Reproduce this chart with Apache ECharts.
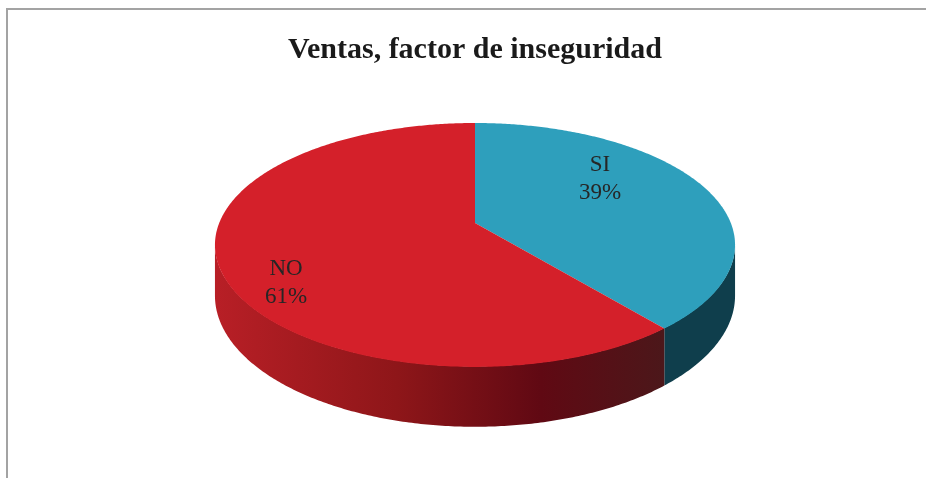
<!DOCTYPE html>
<html>
<head>
<meta charset="utf-8">
<script src="https://cdn.jsdelivr.net/npm/echarts/dist/echarts.min.js"></script>
<style>
html,body{margin:0;padding:0;background:#ffffff;}
#chart{width:926px;height:478px;}
</style>
</head>
<body>
<div id="chart"></div>
<script>
// ---- data ----
const categories = ['SI', 'NO'];
const values = [39, 61];
const titleText = 'Ventas, factor de inseguridad';

// ---- layout / style (not data) ----
const CX = 475, CY = 223;      // projected centre of the top face
const A = 255.8, B = 118;      // projected radii
const K = 0.18;                // perspective factor
const D0 = 49.1;               // thickness of the pie
const labelPos = [[600, 179], [286, 283]];
const topColors = ['#2e9fbc', '#d4202a'];
const FONT = '"Liberation Serif", "Times New Roman", serif';

const total = values.reduce((s, v) => s + v, 0);
function sliceAngles(i) {
  let before = 0;
  for (let j = 0; j < i; j++) before += values[j];
  const s = before / total * Math.PI * 2;
  const e = (before + values[i]) / total * Math.PI * 2;
  return [s, e];
}
function proj(theta, r, drop) {
  const u = r * Math.sin(theta), v = r * Math.cos(theta);
  const sc = 1 / (1 + K * v);
  return [CX + A * u * sc, CY - B * v * sc + drop * sc];
}
const TL = Math.acos(-K), TR = Math.PI * 2 - Math.acos(-K);

const wallFills = [
  '#0f3e4c',
  new echarts.graphic.LinearGradient(215, 0, 735, 0, [
    {offset: 0, color: '#b81f26'},
    {offset: 0.35, color: '#8e1619'},
    {offset: 0.627, color: '#600913'},
    {offset: 0.86, color: '#4c171a'},
    {offset: 1, color: '#4c171a'}
  ], true)
];

function renderWall(params, api) {
  const i = params.dataIndex;
  const [s, e] = sliceAngles(i);
  const a = Math.max(s, TL), b = Math.min(e, TR);
  if (a >= b) return null;
  const n = Math.max(4, Math.ceil((b - a) / 0.01));
  const pts = [];
  for (let k = 0; k <= n; k++) pts.push(proj(a + (b - a) * k / n, 1, -0.5));
  for (let k = n; k >= 0; k--) pts.push(proj(a + (b - a) * k / n, 1, D0));
  return {
    type: 'polygon',
    shape: {points: pts},
    style: {fill: wallFills[i]}
  };
}

function renderTop(params, api) {
  const i = params.dataIndex;
  const [s, e] = sliceAngles(i);
  const n = Math.max(4, Math.ceil((e - s) / 0.01));
  const pts = [[CX, CY]];
  for (let k = 0; k <= n; k++) pts.push(proj(s + (e - s) * k / n, 1, 0));
  const pct = Math.round(api.value(0) / total * 100) + '%';
  return {
    type: 'group',
    children: [
      {type: 'polygon', shape: {points: pts}, style: {fill: topColors[i]}},
      {
        type: 'text',
        x: labelPos[i][0], y: labelPos[i][1],
        style: {
          text: categories[i] + '\n' + pct,
          font: '23px ' + FONT,
          fill: '#262626',
          align: 'center',
          verticalAlign: 'middle',
          lineHeight: 28
        }
      }
    ]
  };
}

const seriesData = values.map((v, i) => ({name: categories[i], value: v}));

const chart = echarts.init(document.getElementById('chart'), null, {renderer: 'canvas'});
chart.setOption({
  backgroundColor: '#ffffff',
  animation: false,
  title: {
    text: titleText,
    left: 470,
    top: 30,
    textAlign: 'center',
    textStyle: {fontFamily: FONT, fontWeight: 'bold', fontSize: 30, color: '#1a1a1a'}
  },
  graphic: [{
    type: 'rect',
    shape: {x: 7, y: 9, width: 1000, height: 1000},
    style: {fill: 'none', stroke: '#a3a3a3', lineWidth: 2},
    silent: true
  }],
  series: [
    {type: 'custom', coordinateSystem: 'none', renderItem: renderWall, data: seriesData, z: 2, silent: true},
    {type: 'custom', coordinateSystem: 'none', renderItem: renderTop, data: seriesData, z: 3, silent: true}
  ]
});
</script>
</body>
</html>
